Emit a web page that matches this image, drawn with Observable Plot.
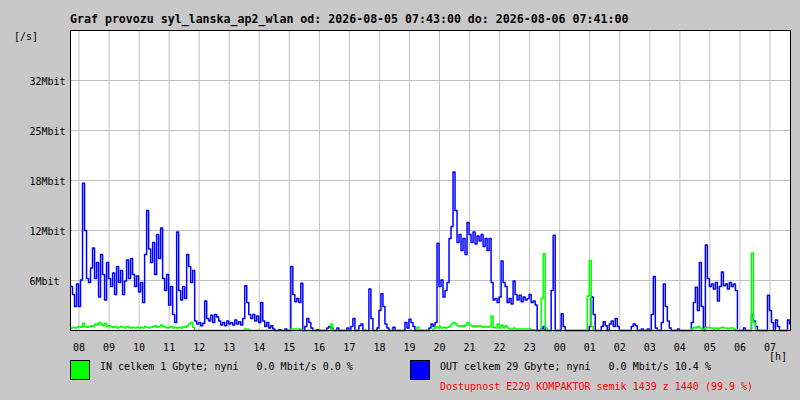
<!DOCTYPE html>
<html><head><meta charset="utf-8">
<script src="https://cdn.jsdelivr.net/npm/d3@7"></script>
<script src="https://cdn.jsdelivr.net/npm/@observablehq/plot@0.6"></script>
<style>
html,body{margin:0;padding:0;background:#c8c8c8;}
#wrap{position:relative;width:800px;height:400px;background:#c8c8c8;font-family:"DejaVu Sans Mono",monospace;overflow:hidden;}
#wrap svg{position:absolute;left:0;top:0;}
.t{position:absolute;white-space:pre;font-size:10px;line-height:12px;color:#000;}
.title{font-size:11.6px;font-weight:bold;line-height:14px;}
.unit{line-height:9px;}
.box{position:absolute;width:18px;height:18px;border:1px solid #000;}
</style></head><body><div id="wrap"></div>
<script>
const titleText = "Graf provozu syl_lanska_ap2_wlan od: 2026-08-05 07:43:00 do: 2026-08-06 07:41:00";
const startTime = "2026-08-05T07:43:00Z";
const endTime = "2026-08-06T07:41:00Z";
const stepMinutes = 4;

// OUT traffic, Mbit/s, one sample per 4 minutes from 07:43
const outMbit = [
5.5,4.5,3.0,5.8,3.0,6.3,18.4,12.5,6.5,6.0,
7.8,10.3,6.5,8.5,4.2,9.5,7.0,3.8,8.5,6.5,
5.5,7.2,4.5,8.0,6.0,7.5,4.5,6.2,8.8,6.5,
9.0,7.0,5.5,6.8,4.8,6.0,3.5,9.5,15.0,10.2,
8.5,11.0,7.0,12.0,9.0,12.8,6.5,5.0,7.0,3.2,
5.5,2.0,1.0,12.3,5.0,3.8,5.5,4.0,9.5,8.0,
6.0,7.5,1.2,0.8,1.0,0.6,0.9,3.7,1.5,1.2,
1.9,1.0,2.0,1.7,1.2,0.7,1.0,0.6,1.2,0.8,
1.0,0.7,1.3,0.8,1.1,0.7,1.5,5.6,3.5,2.0,
1.5,2.0,1.2,1.8,1.0,3.5,1.2,0.5,1.0,0.3,
0.6,0.2,0,0,0.1,0,0,0.2,0,0,
8.0,4.5,3.6,4.0,3.5,5.9,0,0.5,1.5,1.0,
0.3,0,0,0.1,0,0,0,0,0.3,0.5,
0.3,0,0,0.3,0,0,0,0,0.3,0,
0.5,1.5,0,0,0.6,0.8,0,0,0,5.2,
1.5,0,0,0.3,2.5,4.6,3.0,0.8,0.3,0,
0,0.4,0,0,0,0,0,1.0,0.3,1.4,
1.0,0.5,0,0,0,0,0,0,0,0.3,
0.8,0.5,1.0,10.9,5.5,6.3,4.2,5.0,6.0,11.5,
13.0,19.8,15.0,11.0,12.0,10.0,11.5,9.5,13.5,12.0,
11.0,12.3,10.8,11.8,11.2,12.0,10.5,11.5,10.0,11.5,
6.0,3.8,4.0,3.5,4.2,8.7,6.0,5.5,3.5,4.0,
3.3,6.2,4.5,3.8,4.4,3.6,4.2,3.8,4.0,4.5,
3.5,3.7,3.2,0,0,0.2,0.5,0,0,0,
5.0,11.9,0,0,0,2.1,0.5,0,0,0,
0,0,0,0,0,0,0,0,0,0.5,
4.2,2.0,0,0,0,0.5,1.1,0.6,0,0.8,
1.2,0.5,1.5,0.5,0,0,0,0,0,0,
0.5,0.8,0.6,0,0,0.2,0,0,0.2,0,
2.0,6.75,0.3,0,0,1.0,5.8,3.0,1.2,0.3,
0,0,0,0.2,0,0,0,0,0,0,
1.0,3.5,5.4,2.5,8.5,3.0,0,10.7,6.5,5.5,
5.8,5.2,6.0,3.7,5.5,7.3,5.6,5.8,5.2,6.0,
5.5,5.8,5.0,0,0,0,0.3,0,0,0,
2.0,1.2,0.5,0,0,0,0,0,4.4,2.5,
1.0,0,1.3,0.5,0,0,0,0,1.3,0.8
];

// IN traffic, Mbit/s, same sampling
const inMbit = [
0.3,0.4,0.3,0.4,0.5,0.4,0.9,0.5,0.4,0.5,
0.6,0.5,0.8,0.7,1.0,0.8,0.6,0.9,0.5,0.6,
0.5,0.4,0.5,0.3,0.4,0.5,0.4,0.3,0.5,0.4,
0.3,0.4,0.3,0.4,0.3,0.4,0.3,0.5,0.4,0.3,
0.4,0.5,0.6,0.4,0.5,0.7,0.5,0.4,0.3,0.4,
0.5,0.3,0.4,0.3,0.4,0.3,0.5,0.4,0.6,0.8,
1.0,0.4,0,0,0,0,0,0,0,0,
0,0,0,0,0,0,0,0,0,0,
0,0,0,0,0,0,0,0.2,0.2,0,
0,0,0,0,0,0,0,0,0,0,
0,0,0,0,0,0,0,0,0,0,
0.2,0.2,0.2,0.2,0.2,0.1,0,0,0,0,
0,0,0,0,0,0,0,0,0,0,
0.8,0,0,0,0,0,0,0,0,0,
0,0,0,0,0,0,0,0,0,0,
0,0,0,0,0,0,0,0,0,0,
0,0,0,0,0,0,0,0,0,0,
0,0,0,0.4,0,0,0,0,0,0,
0,0.2,0.5,0.3,0.5,0.3,0.4,0.3,0.4,0.5,
0.8,1.0,0.8,0.6,0.5,0.6,0.5,0.7,1.0,0.7,
0.6,0.5,0.6,0.5,0.6,0.5,0.4,0.5,0.4,0.5,
1.8,0.4,0.3,0.8,0.3,0.7,0.3,0.6,0.3,0.2,
0.2,0.3,0.2,0.2,0.2,0.2,0.2,0.2,0.2,0.2,
0.1,0.1,0,0,0,4.0,9.6,0.3,0,0,
0,0,0,0,0,0,0,0,0,0,
0,0,0,0,0,0,0,0,4.3,8.75,
0.5,0,0,0,0,0,0,0,0,0,
0,0,0,0,0,0,0,0,0,0,
0,0,0,0,0,0,0,0,0,0,
0,0,0,0,0,0,0,0,0,0,
0,0,0,0,0,0,0,0,0,0,
0.2,0.4,0.3,0.5,0.3,0.2,0,0.3,0.4,0.3,
0.3,0.2,0.3,0.2,0.3,0.4,0.3,0.3,0.2,0.3,
0.3,0.2,0.1,0,0,0,0,0,0,0,
9.7,1.0,0,0,0,0,0,0,0,0,
0,0,0,0,0,0,0,0,0,0
];

const yTickValues = [6.25, 12.5, 18.75, 25, 31.25];
const yTickLabels = ["6Mbit", "12Mbit", "18Mbit", "25Mbit", "32Mbit"];
const hourLabels = ["08","09","10","11","12","13","14","15","16","17","18","19","20","21","22","23","00","01","02","03","04","05","06","07"];
const yUnitLabel = "[/s]";
const xUnitLabel = "[h]";
const legendIn = "IN celkem 1 Gbyte; nyní   0.0 Mbit/s 0.0 %";
const legendOut = "OUT celkem 29 Gbyte; nyní   0.0 Mbit/s 10.4 %";
const availability = "Dostupnost E220 KOMPAKTOR semik 1439 z 1440 (99.9 %)";
const colorIn = "#00ff00";
const colorOut = "#0000ff";

const t0 = new Date(startTime).getTime();
const rows = outMbit.map((v, i) => ({t: new Date(t0 + i * stepMinutes * 60000), out: v, inn: inMbit[i]}));
const firstHour = Date.UTC(2026, 7, 5, 8);
const hourTicks = hourLabels.map((h, k) => new Date(firstHour + k * 3600000));

const chart = Plot.plot({
  width: 800, height: 400,
  marginLeft: 70, marginRight: 10, marginTop: 30, marginBottom: 70,
  style: {background: "transparent", fontFamily: "DejaVu Sans Mono", fontSize: "10px", color: "black"},
  x: {type: "utc", domain: [new Date(startTime), new Date(endTime)], axis: null},
  y: {domain: [0, 37.5], axis: null},
  marks: [
    Plot.frame({fill: "white", stroke: "none"}),
    Plot.gridX(hourTicks, {stroke: "#c0c0c0", strokeOpacity: 1}),
    Plot.gridY(yTickValues, {stroke: "#c0c0c0", strokeOpacity: 1}),
    Plot.axisY(yTickValues, {tickSize: 4, tickFormat: () => "", stroke: "#c0c0c0", strokeOpacity: 1}),
    Plot.line(rows, {x: "t", y: "out", stroke: colorOut, strokeWidth: 1.5, curve: "step-after"}),
    Plot.line(rows, {x: "t", y: "inn", stroke: colorIn, strokeWidth: 1.5, curve: "step-after"}),
    Plot.frame({stroke: "black"}),
    Plot.text(yTickValues, {y: d => d, text: (d, i) => yTickLabels[i], frameAnchor: "left", textAnchor: "start", dx: -41, dy: 1.5, fill: "black"}),
    Plot.text(hourTicks, {x: d => d, text: (d, i) => hourLabels[i], frameAnchor: "bottom", lineAnchor: "middle", dy: 17, fill: "black"})
  ]
});

const wrap = document.getElementById("wrap");
wrap.appendChild(chart);
function addText(txt, cls, left, top, color) {
  const d = document.createElement("div");
  d.className = "t " + cls;
  d.textContent = txt;
  d.style.left = left + "px";
  d.style.top = top + "px";
  if (color) d.style.color = color;
  wrap.appendChild(d);
}
function addBox(color, left, top) {
  const b = document.createElement("div");
  b.className = "box";
  b.style.left = left + "px";
  b.style.top = top + "px";
  b.style.background = color;
  wrap.appendChild(b);
}
addText(titleText, "title", 70, 12);
addText(yUnitLabel, "", 14, 31);
addText(xUnitLabel, "unit", 769, 352);
addBox(colorIn, 70, 360);
addBox(colorOut, 410, 360);
addText(legendIn, "", 100, 361);
addText(legendOut, "", 440, 361);
addText(availability, "", 440, 381, "#ff0000");
</script>
</body></html>
